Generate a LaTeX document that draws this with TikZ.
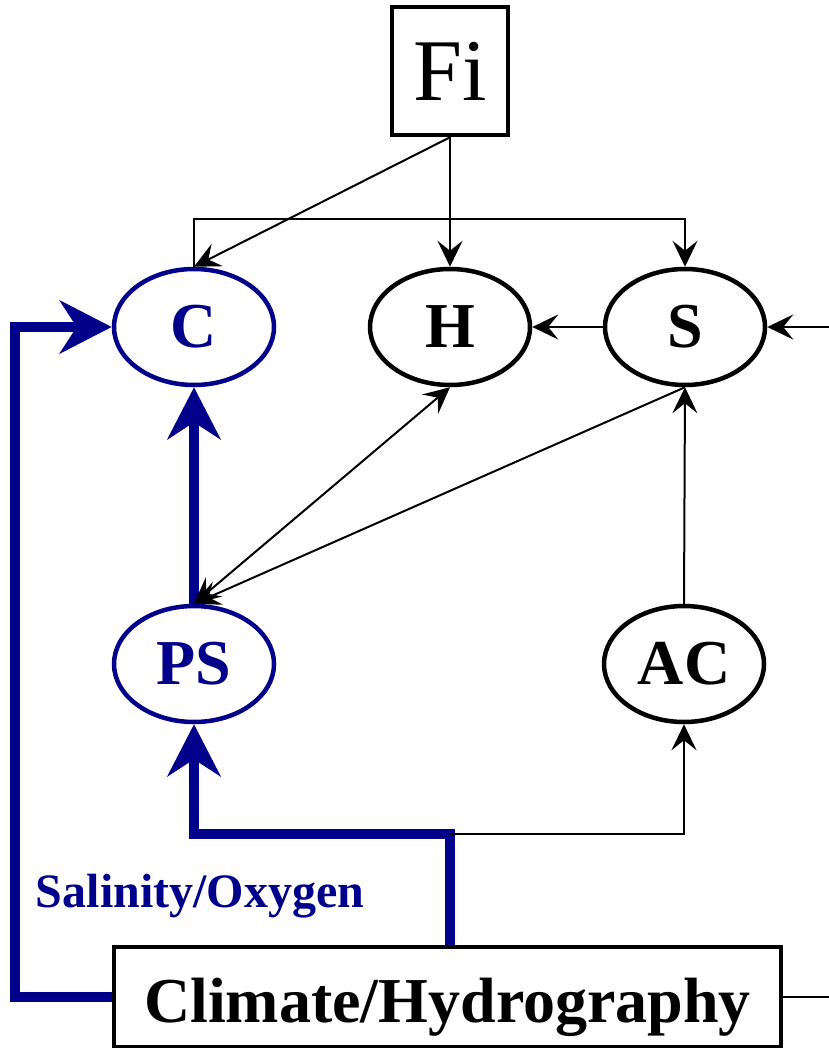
\documentclass[tikz,border=0pt]{standalone}
\usepackage{fontspec}
\setmainfont{Liberation Serif}
\usepackage{xcolor}
\usetikzlibrary{arrows.meta,positioning,calc,shapes.geometric}
\definecolor{marine}{RGB}{0,0,139}

\begin{document}
\begin{tikzpicture}[x=1pt, y=-1pt,
 fin/.tip={Stealth[length=26pt, width=25pt, inset=10pt]},
 gros/.tip={Stealth[length=52pt, width=53pt, inset=17pt]},
 var/.style={ellipse, draw, line width=4.5pt, minimum width=160pt, minimum height=116pt,
   inner sep=0pt, font=\fontsize{64}{64}\selectfont\bfseries},
 bleu/.style={var, draw=marine, text=marine},
 boite/.style={rectangle, draw, line width=4.5pt, inner sep=0pt},
 fl/.style={-fin, line width=2pt},
 flg/.style={-gros, marine, line width=10pt}]
\useasboundingbox (0,0) rectangle (828,1048);
% noeuds
\node[boite, minimum width=116pt, minimum height=128pt,
  font=\fontsize{88}{88}\selectfont] (fi) at (450,71) {Fi};
\node[bleu] (c)  at (194,327) {C};
\node[var]  (h)  at (450,327) {H};
\node[var]  (s)  at (685,327) {S};
\node[bleu] (ps) at (194,664) {PS};
\node[var]  (ac) at (684,664) {AC};
\node[boite, minimum width=667pt, minimum height=100pt, text height=60pt, text depth=10pt,
  font=\fontsize{64}{64}\selectfont\bfseries] (ch) at (447.5,997) {Climate/Hydrography};
\node[marine, font=\fontsize{48}{48}\selectfont\bfseries] (sal) at (200,896) {Salinity/Oxygen};
\coordinate (j) at (450,834);
\coordinate (e) at (830,327);
\coordinate (f) at (830,997);
% liens forts
\draw[flg] (ch.west) -- ++(-97,0) |- (c.west);
\draw[flg] (ch.north -| j) -- (j) -| (ps.south);
\draw[flg] (ps.north) -- (c.south);
% liens fins
\draw[fl] (j) -| (ac.south);
\draw[fl] (fi.south) -- (h.north);
\draw[fl] (fi.south) -- (c.north);
\draw[fl] (c.north) -- ++(0,-48) -| (s.north);
\draw[fl] (s.west) -- (h.east);
\draw[fl] (ac.north) -- (s.south);
\draw[fl, fin-fin] (ps.north) -- (h.south);
\draw[fl] (s.south) -- (ps.north);
\draw[fl] (e) -- (s.east);
\draw[line width=2pt] (ch.east) -- (f);
\end{tikzpicture}
\end{document}
